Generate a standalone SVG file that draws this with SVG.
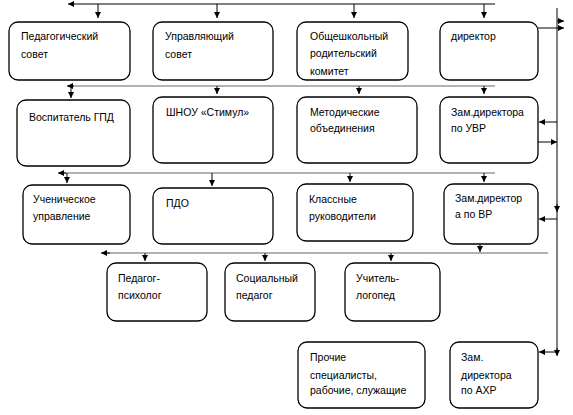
<svg xmlns="http://www.w3.org/2000/svg" width="573" height="415" viewBox="0 0 573 415">
<defs>
<marker id="arr" viewBox="0 0 10 10" refX="10" refY="5" markerWidth="6" markerHeight="6" markerUnits="userSpaceOnUse" orient="auto">
<path d="M0,0 L10,5 L0,10 Z" fill="#000"/>
</marker>
</defs>
<style>
.box{fill:#fff;stroke:#000;stroke-width:1.3}
.t{font-family:"Liberation Sans",Arial,sans-serif;font-size:10.5px;fill:#000}
.c{fill:none;stroke:#000;stroke-width:1}
.g{fill:none;stroke:#666;stroke-width:1.2}
</style>
<rect width="573" height="415" fill="#fff"/>
<g id="connectors">
<line class="c" x1="495" y1="4" x2="68" y2="4" marker-end="url(#arr)"/>
<line class="c" x1="98" y1="4" x2="98" y2="18" marker-end="url(#arr)"/>
<line class="c" x1="217" y1="4" x2="217" y2="18" marker-end="url(#arr)"/>
<line class="c" x1="354" y1="4" x2="354" y2="18" marker-end="url(#arr)"/>
<line class="c" x1="484" y1="4" x2="484" y2="18" marker-end="url(#arr)"/>
<line class="g" x1="495" y1="86" x2="72" y2="86"/>
<line class="c" x1="74" y1="86" x2="67" y2="86" marker-end="url(#arr)"/>
<line class="c" x1="71" y1="86" x2="71" y2="98" marker-end="url(#arr)"/>
<line class="c" x1="217" y1="86" x2="217" y2="94" marker-end="url(#arr)"/>
<line class="c" x1="359" y1="86" x2="359" y2="94" marker-end="url(#arr)"/>
<line class="c" x1="484" y1="86" x2="484" y2="94" marker-end="url(#arr)"/>
<line class="g" x1="495" y1="173" x2="62" y2="173"/>
<line class="c" x1="66" y1="173" x2="58" y2="173" marker-end="url(#arr)"/>
<line class="c" x1="67" y1="173" x2="67" y2="183" marker-end="url(#arr)"/>
<line class="c" x1="212" y1="173" x2="212" y2="186" marker-end="url(#arr)"/>
<line class="c" x1="350" y1="173" x2="350" y2="182" marker-end="url(#arr)"/>
<line class="c" x1="484" y1="173" x2="484" y2="182" marker-end="url(#arr)"/>
<line class="g" x1="548" y1="253" x2="105" y2="253"/>
<line class="c" x1="110" y1="253" x2="101" y2="253" marker-end="url(#arr)"/>
<line class="c" x1="145" y1="253" x2="145" y2="261" marker-end="url(#arr)"/>
<line class="c" x1="265" y1="253" x2="265" y2="261" marker-end="url(#arr)"/>
<line class="c" x1="391" y1="253" x2="391" y2="261" marker-end="url(#arr)"/>
<line class="c" x1="480" y1="244" x2="480" y2="252" marker-end="url(#arr)"/>
<line class="c" x1="557" y1="8" x2="557" y2="352"/>
<line class="c" x1="557" y1="21" x2="564" y2="21" marker-end="url(#arr)"/>
<line class="c" x1="538" y1="28" x2="564" y2="28" marker-end="url(#arr)"/>
<line class="c" x1="557" y1="122" x2="539" y2="122" marker-end="url(#arr)"/>
<line class="c" x1="538" y1="142" x2="557" y2="142" marker-end="url(#arr)"/>
<line class="c" x1="557" y1="204" x2="557" y2="212" marker-end="url(#arr)"/>
<line class="c" x1="557" y1="219" x2="539" y2="219" marker-end="url(#arr)"/>
<line class="c" x1="557" y1="348" x2="557" y2="356" marker-end="url(#arr)"/>
<line class="c" x1="557" y1="352" x2="539" y2="352" marker-end="url(#arr)"/>
</g>
<g id="ped-sovet"><rect class="box" x="9" y="22" width="121" height="58" rx="9"/><text class="t" x="21" y="40">Педагогический</text><text class="t" x="21" y="58">совет</text></g>
<g id="upr-sovet"><rect class="box" x="153" y="22" width="120" height="58" rx="9"/><text class="t" x="165" y="40">Управляющий</text><text class="t" x="165" y="58">совет</text></g>
<g id="rod-komitet"><rect class="box" x="297" y="22" width="111" height="58" rx="9"/><text class="t" x="310" y="40">Общешкольный</text><text class="t" x="310" y="57">родительский</text><text class="t" x="310" y="75">комитет</text></g>
<g id="direktor"><rect class="box" x="440" y="22" width="98" height="58" rx="9"/><text class="t" x="451" y="40">директор</text></g>
<g id="vospitatel"><rect class="box" x="17" y="100" width="113" height="66" rx="9"/><text class="t" x="29" y="121">Воспитатель ГПД</text></g>
<g id="shnou"><rect class="box" x="153" y="97" width="120" height="66" rx="9"/><text class="t" x="166" y="116">ШНОУ «Стимул»</text></g>
<g id="metod"><rect class="box" x="297" y="97" width="120" height="66" rx="9"/><text class="t" x="310" y="116">Методические</text><text class="t" x="310" y="132">объединения</text></g>
<g id="zam-uvr"><rect class="box" x="440" y="97" width="98" height="66" rx="9"/><text class="t" x="451" y="116">Зам.директора</text><text class="t" x="451" y="132">по УВР</text></g>
<g id="uchen"><rect class="box" x="23" y="185" width="107" height="59" rx="9"/><text class="t" x="33" y="203">Ученическое</text><text class="t" x="33" y="220">управление</text></g>
<g id="pdo"><rect class="box" x="153" y="188" width="120" height="56" rx="9"/><text class="t" x="166" y="207">ПДО</text></g>
<g id="klass"><rect class="box" x="297" y="184" width="116" height="57" rx="9"/><text class="t" x="309" y="203">Классные</text><text class="t" x="309" y="220">руководители</text></g>
<g id="zam-vr"><rect class="box" x="444" y="184" width="94" height="60" rx="9"/><text class="t" x="455" y="202">Зам.директор</text><text class="t" x="455" y="218">а по ВР</text></g>
<g id="psiholog"><rect class="box" x="107" y="263" width="100" height="58" rx="9"/><text class="t" x="118" y="282">Педагог-</text><text class="t" x="118" y="299">психолог</text></g>
<g id="soc-pedagog"><rect class="box" x="225" y="263" width="90" height="58" rx="9"/><text class="t" x="236" y="282">Социальный</text><text class="t" x="236" y="299">педагог</text></g>
<g id="logoped"><rect class="box" x="345" y="263" width="95" height="58" rx="9"/><text class="t" x="356" y="282">Учитель-</text><text class="t" x="356" y="299">логопед</text></g>
<g id="prochie"><rect class="box" x="298" y="342" width="127" height="66" rx="9"/><text class="t" x="310" y="361">Прочие</text><text class="t" x="310" y="379">специалисты,</text><text class="t" x="310" y="394">рабочие, служащие</text></g>
<g id="zam-ahr"><rect class="box" x="450" y="342" width="88" height="66" rx="9"/><text class="t" x="461" y="361">Зам.</text><text class="t" x="461" y="379">директора</text><text class="t" x="461" y="394">по АХР</text></g>
</svg>
